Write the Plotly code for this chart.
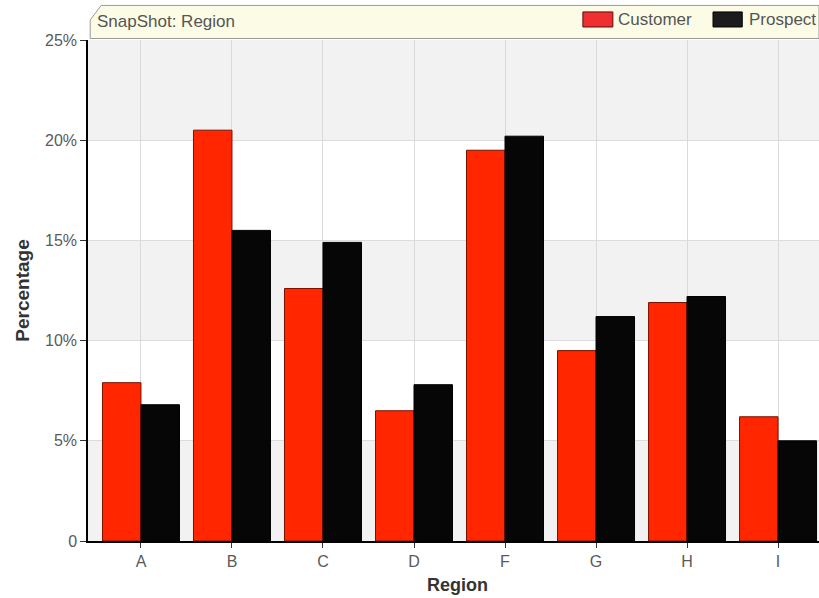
import plotly.graph_objects as go

# Region snapshot: share of customers vs prospects per region
regions = ["A", "B", "C", "D", "F", "G", "H", "I"]
customer = [7.9, 20.5, 12.6, 6.5, 19.5, 9.5, 11.9, 6.2]
prospect = [6.8, 15.5, 14.9, 7.8, 20.2, 11.2, 12.2, 5.0]
y_ticks = [0, 5, 10, 15, 20, 25]
y_tick_text = ["0", "5%", "10%", "15%", "20%", "25%"]

RED = "#ff2600"
BLACK = "#060606"
FONT = "Liberation Sans, Arial, sans-serif"

fig = go.Figure()
fig.add_trace(go.Bar(
    x=regions, y=customer, name="Customer",
    marker=dict(color=RED, line=dict(color="#7a1200", width=1)),
))
fig.add_trace(go.Bar(
    x=regions, y=prospect, name="Prospect",
    marker=dict(color=BLACK, line=dict(color="#000000", width=1)),
))

shapes = []
# alternating horizontal bands behind the bars
for lo in (0, 10, 20):
    shapes.append(dict(type="rect", xref="paper", yref="y", x0=0, x1=1,
                       y0=lo, y1=lo + 5, fillcolor="#f2f2f2",
                       line=dict(width=0), layer="below"))

# header strip with clipped top-left corner
shapes.append(dict(
    type="path", xref="paper", yref="paper",
    path="M 0.003,1.040 L 0.018,1.069 L 1.0,1.069 L 1.0,1.003 L 0.003,1.003 Z",
    fillcolor="#fcfce6", line=dict(color="#9a9a9a", width=1), layer="above",
))

# legend swatches in the header
shapes.append(dict(type="rect", xref="paper", yref="paper",
                   x0=0.677, x1=0.718, y0=1.026, y1=1.056,
                   fillcolor="#f03030", line=dict(color="#5a0a0a", width=1)))
shapes.append(dict(type="rect", xref="paper", yref="paper",
                   x0=0.855, x1=0.895, y0=1.026, y1=1.056,
                   fillcolor="#1c1c1c", line=dict(color="#000000", width=1)))

annotations = [
    dict(text="SnapShot: Region", xref="paper", yref="paper", x=0.010, y=1.037,
         xanchor="left", yanchor="middle", showarrow=False,
         font=dict(family=FONT, size=17, color="#555555")),
    dict(text="Customer", xref="paper", yref="paper", x=0.722, y=1.041,
         xanchor="left", yanchor="middle", showarrow=False,
         font=dict(family=FONT, size=17, color="#555555")),
    dict(text="Prospect", xref="paper", yref="paper", x=0.901, y=1.041,
         xanchor="left", yanchor="middle", showarrow=False,
         font=dict(family=FONT, size=17, color="#555555")),
    dict(text="<b>Percentage</b>", xref="paper", yref="paper", x=-0.090, y=0.5,
         xanchor="center", yanchor="middle", textangle=-90, showarrow=False,
         font=dict(family=FONT, size=19, color="#333333")),
    dict(text="<b>Region</b>", xref="paper", yref="paper", x=0.506, y=-0.087,
         xanchor="center", yanchor="middle", showarrow=False,
         font=dict(family=FONT, size=18, color="#333333")),
]

fig.update_layout(
    width=819, height=598,
    margin=dict(l=88, r=0, t=40, b=57),
    paper_bgcolor="white", plot_bgcolor="white",
    barmode="group", bargap=0.154, bargroupgap=0,
    showlegend=False,
    shapes=shapes, annotations=annotations,
    font=dict(family=FONT, size=16, color="#5a5a5a"),
    xaxis=dict(
        range=[-0.582, 7.45], showgrid=True, gridcolor="#d9d9d9", gridwidth=1,
        showline=True, linecolor="#000000", linewidth=1.5,
        ticks="outside", ticklen=5, tickcolor="#333333",
        tickfont=dict(family=FONT, size=16, color="#5a5a5a"),
        zeroline=False, fixedrange=True,
    ),
    yaxis=dict(
        range=[0, 25], tickvals=y_ticks, ticktext=y_tick_text,
        showgrid=True, gridcolor="#dcdcdc", gridwidth=1,
        showline=True, linecolor="#000000", linewidth=1.5,
        ticks="outside", ticklen=6, tickcolor="#333333",
        tickfont=dict(family=FONT, size=16, color="#5a5a5a"),
        zeroline=False, fixedrange=True,
    ),
)

fig.write_html("out.html")
